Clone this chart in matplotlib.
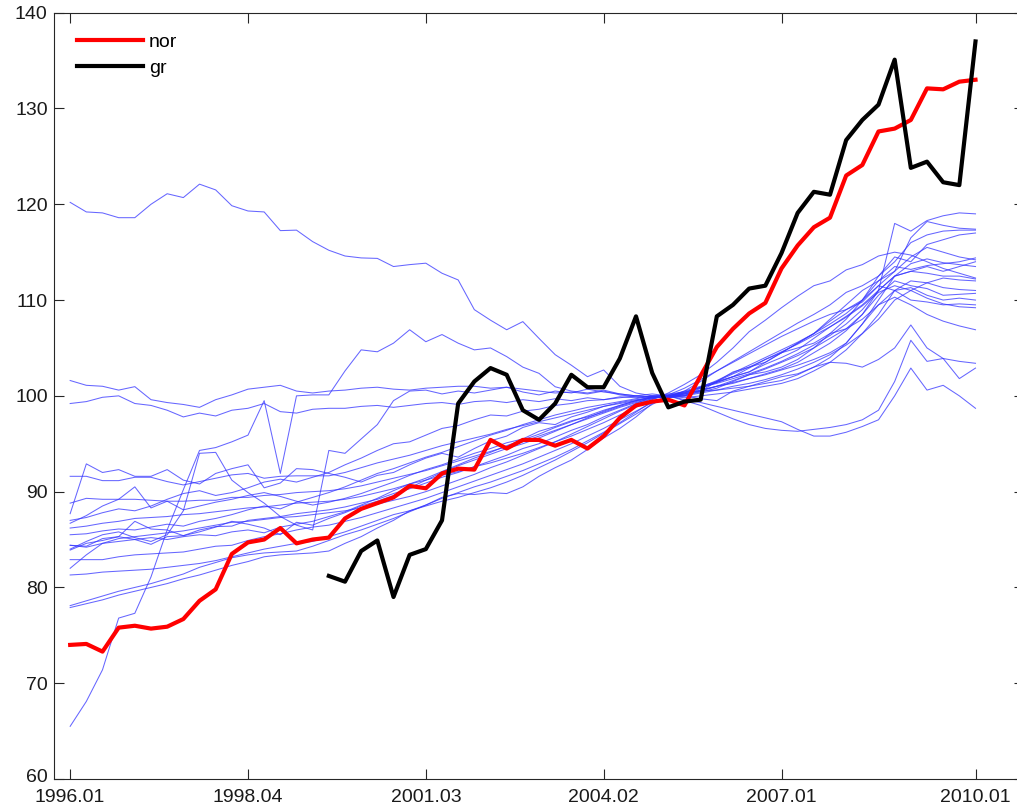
import numpy as np
import matplotlib
matplotlib.use("Agg")
import matplotlib.pyplot as plt
import matplotlib.transforms as mtransforms

plt.rcParams['font.family'] = ['Liberation Sans', 'DejaVu Sans']

# quarterly periods 1996Q1 .. 2010Q1
periods = [f"{y}.{q:02d}" for y in range(1996, 2011) for q in range(1, 5)][:57]
tick_labels = ['1996.01', '1998.04', '2001.03', '2004.02', '2007.01', '2010.01']

nor = [74.0, 74.1, 73.3, 75.8, 76.0, 75.7, 75.9, 76.7, 78.6, 79.8,
       83.5, 84.7, 85.0, 86.2, 84.6, 85.0, 85.2, 87.2, 88.2, 88.8,
       89.4, 90.6, 90.35, 91.9, 92.4, 92.3, 95.4, 94.5, 95.4, 95.4,
       94.8, 95.4, 94.5, 95.8, 97.7, 99.0, 99.4, 99.6, 99.0, 102.1,
       105.1, 107.0, 108.6, 109.7, 113.3, 115.7, 117.6, 118.6, 123.0, 124.1,
       127.6, 127.9, 128.8, 132.1, 132.0, 132.8, 133.0]

gr_start = "2000.01"
gr = [81.2, 80.6, 83.8, 84.9, 79.0, 83.4, 84.0, 87.0, 99.2, 101.5,
      102.9, 102.2, 98.5, 97.5, 99.2, 102.2, 100.9, 100.9, 103.9, 108.3,
      102.4, 98.8, 99.4, 99.6, 108.3, 109.5, 111.2, 111.5, 114.9, 119.1,
      121.3, 121.0, 126.7, 128.8, 130.4, 135.1, 123.8, 124.45, 122.3, 122.0,
      137.0]

# other countries: 1996Q1 .. 2005Q1 part
pre_A = [120.2, 119.2, 119.1, 118.6, 118.6, 120.0, 121.1, 120.7, 122.1, 121.5,
         119.85, 119.3, 119.2, 117.25, 117.3, 116.1, 115.2, 114.6, 114.4, 114.35,
         113.5, 113.7, 113.85, 112.8, 112.1, 109.0, 107.9, 106.9, 107.75, 106.0,
         104.3, 103.2, 102.0, 102.7, 101.0, 100.3, 100.0]
pre_B1 = [101.6, 101.1, 101.0, 100.6, 100.96, 99.6, 99.3, 99.1, 98.8, 99.6,
          100.1, 100.7, 100.9, 101.1, 100.5, 100.3, 100.5, 100.6, 100.8, 100.9,
          100.7, 100.6, 100.8, 100.9, 101.0, 101.0, 100.8, 100.9, 100.7, 100.5,
          100.3, 100.4, 100.2, 100.5, 100.1, 99.9, 99.8]
pre_B2 = [99.2, 99.4, 99.85, 100.0, 99.2, 99.0, 98.5, 97.8, 98.2, 97.9,
          98.5, 98.7, 99.2, 98.35, 98.2, 98.6, 98.7, 98.7, 98.9, 99.0,
          98.8, 99.0, 99.2, 99.3, 99.1, 99.4, 99.5, 99.3, 99.6, 99.4,
          99.7, 99.5, 99.8, 99.6, 99.9, 99.8, 100.0]
pre_S = [65.5, 68.1, 71.4, 76.8, 77.3, 81.1, 86.0, 90.2, 94.3, 94.6,
         95.2, 95.9, 99.5, 91.9, 100.0, 100.1, 100.1, 102.6, 104.8, 104.6,
         105.5, 106.9, 105.65, 106.4, 105.5, 104.8, 105.0, 104.1, 103.0, 102.35,
         100.95, 100.5, 100.3, 100.6, 100.2, 100.0, 99.9]
pre_C1 = [91.6, 91.6, 91.15, 91.15, 91.5, 91.5, 91.05, 90.7, 91.05, 91.4,
          91.75, 91.9, 91.4, 91.6, 91.65, 91.65, 91.65,
          92.0, 92.5, 93.0, 93.4, 93.8, 94.3, 94.8, 95.2, 95.6, 96.0,
          96.5, 96.9, 97.3, 97.7, 98.1, 98.5, 98.9, 99.3, 99.6, 99.8]
pre_C2 = [87.7, 92.9, 92.0, 92.3, 91.6, 91.6, 92.3, 91.2, 90.8, 91.9,
          92.4, 92.8, 90.4, 90.9, 92.4, 92.3, 91.9,
          91.5, 91.0, 91.7, 92.0, 92.8, 93.5, 94.0, 93.6, 94.5, 95.3,
          95.8, 96.7, 97.2, 97.0, 97.8, 98.3, 98.9, 99.2, 99.5, 99.8]
pre_D1 = [88.8, 89.3, 89.2, 89.2, 89.2, 89.1, 89.0, 89.0, 89.1, 89.1,
          89.4, 89.4, 89.6, 89.7, 89.9, 90.0, 90.1,
          90.3, 90.6, 91.0, 91.4, 91.8, 92.2, 92.7, 93.2, 93.7, 94.2,
          94.7, 95.2, 95.8, 96.4, 97.0, 97.6, 98.2, 98.8, 99.3, 99.7]
pre_D2 = [86.7, 87.5, 88.5, 89.2, 90.5, 88.3, 89.0, 88.1, 88.5, 88.9,
          89.2, 89.6, 89.9, 89.5, 89.0, 88.6, 88.9,
          89.3, 89.8, 90.4, 91.0, 91.7, 92.3, 92.8, 93.4, 94.0, 94.5,
          95.1, 95.5, 96.3, 96.8, 97.4, 97.8, 98.3, 98.9, 99.4, 99.8]
pre_D3 = [86.2, 86.4, 86.7, 86.9, 87.2, 87.3, 87.4, 87.6, 87.7, 87.9,
          88.1, 88.3, 88.4, 88.6, 88.8, 88.9, 89.0,
          89.2, 89.5, 89.9, 90.3, 90.8, 91.2, 91.7, 92.1, 92.6, 93.0,
          93.5, 94.0, 94.6, 95.2, 95.8, 96.5, 97.2, 98.0, 98.8, 99.6]
pre_E1 = [84.4, 84.3, 85.1, 85.3, 85.0, 84.5, 85.3, 85.4, 86.0, 86.35,
          86.4, 87.0, 87.2, 87.4, 87.7, 87.9, 88.1,
          88.4, 88.8, 89.2, 89.8, 90.3, 90.9, 91.5, 92.0, 92.6, 93.2,
          93.8, 94.5, 95.0, 95.7, 96.4, 97.0, 97.8, 98.5, 99.2, 99.9]
pre_E2 = [82.0, 83.4, 84.6, 85.1, 85.3, 85.5, 85.7, 85.9, 86.2, 86.5,
          86.8, 86.9, 87.1, 87.3, 87.4, 87.6, 87.8,
          88.0, 88.3, 88.7, 89.1, 89.5, 90.0, 90.6, 91.2, 91.8, 92.5,
          93.1, 93.8, 94.5, 95.2, 96.0, 96.8, 97.6, 98.4, 99.1, 99.7]
pre_E3 = [83.9, 84.6, 84.9, 85.3, 86.9, 86.1, 86.0, 85.4, 85.8, 86.3,
          86.9, 86.6, 86.2, 85.5, 86.8, 86.5, 87.2,
          87.8, 88.5, 89.0, 89.6, 90.4, 91.2, 92.0, 92.7, 93.3, 93.9,
          94.5, 95.0, 95.6, 96.3, 97.0, 97.7, 98.4, 99.0, 99.5, 99.9]
pre_F1 = [81.3, 81.4, 81.6, 81.7, 81.8, 81.9, 82.1, 82.3, 82.5, 82.8,
          83.2, 83.6, 84.0, 84.3, 84.6, 84.8, 85.3,
          85.8, 86.4, 87.0, 87.6, 88.0, 88.5, 89.0, 89.4, 89.9, 90.4,
          91.0, 91.7, 92.5, 93.3, 94.2, 95.1, 96.1, 97.1, 98.1, 99.1]
pre_F2 = [82.9, 82.9, 82.9, 83.2, 83.4, 83.5, 83.6, 83.7, 84.0, 84.3,
          84.4, 84.9, 85.3, 85.6, 86.0, 86.3, 86.5,
          86.9, 87.3, 87.8, 88.3, 88.8, 89.3, 89.9, 90.5, 91.1, 91.7,
          92.3, 92.9, 93.6, 94.3, 95.0, 95.8, 96.6, 97.5, 98.4, 99.3]
pre_G1 = [78.1, 78.6, 79.1, 79.6, 80.0, 80.4, 80.9, 81.4, 82.1, 82.6,
          83.1, 83.4, 83.6, 83.7, 83.8, 84.3, 84.9,
          85.5, 86.0, 86.6, 87.2, 87.9, 88.6, 89.3, 89.9, 90.5, 91.0,
          91.6, 92.2, 92.9, 93.6, 94.4, 95.3, 96.2, 97.2, 98.3, 99.4]
pre_G2 = [77.9, 78.3, 78.7, 79.2, 79.6, 80.0, 80.4, 80.9, 81.3, 81.8,
          82.3, 82.7, 83.2, 83.4, 83.5, 83.6, 83.8,
          84.6, 85.3, 86.2, 87.0, 88.0, 88.6, 89.4, 89.8, 89.7, 89.9,
          89.8, 90.5, 91.6, 92.5, 93.3, 94.4, 95.6, 96.6, 97.8, 99.2]
pre_J = [84.0, 84.8, 85.5, 85.8, 85.2, 84.8, 85.5, 88.0, 94.0, 94.1,
         91.2, 89.9, 88.8, 87.4, 86.5, 86.0, 94.3,
         94.0, 95.5, 97.0, 99.5, 100.5, 100.6, 100.2, 100.5, 100.3, 100.6,
         100.9, 100.4, 100.1, 100.5, 100.3, 100.7, 100.4, 100.2, 100.0, 99.9]
pre_K = [87.0, 87.3, 87.8, 88.2, 88.0, 88.5, 89.2, 89.8, 90.1, 89.6,
         89.9, 90.4, 91.0, 91.3, 91.0, 91.5, 92.0,
         92.8, 93.5, 94.3, 95.0, 95.2, 95.9, 96.6, 96.9, 97.5, 98.0,
         97.9, 98.4, 98.6, 99.0, 99.2, 99.5, 99.6, 99.8, 100.0, 100.2]
pre_M = [85.5, 85.6, 85.9, 86.1, 86.0, 86.3, 86.6, 86.4, 86.9, 87.2,
         87.6, 88.1, 88.5, 88.2, 88.9, 89.4, 89.9,
         90.5, 91.2, 91.9, 92.4, 93.0, 93.6, 94.1, 94.7, 95.3, 95.9,
         96.4, 97.0, 97.5, 98.0, 98.4, 98.8, 99.1, 99.4, 99.7, 100.0]
pre_N = [84.4, 84.2, 84.6, 84.8, 85.0, 85.2, 85.0, 85.3, 85.5, 85.4,
         85.8, 86.0, 85.7, 86.3, 86.6, 86.9, 87.4,
         87.9, 88.6, 89.3, 90.1, 90.8, 91.4, 92.1, 92.8, 93.5, 94.1,
         94.8, 95.4, 96.0, 96.7, 97.3, 97.9, 98.5, 99.0, 99.5, 99.9]

# 2005Q2 .. 2010Q1 part
post_1 = [99.8, 100.2, 100.5, 101.0, 101.3, 101.8, 102.3, 102.8, 103.5, 104.5,
          105.5, 106.8, 108.5, 111.0, 118.0, 117.2, 118.3, 118.8, 119.1, 119.0]
post_2 = [100.0, 100.0, 100.8, 101.5, 102.0, 102.5, 103.5, 104.5, 105.5, 106.5,
          107.8, 109.0, 110.0, 112.0, 113.0, 116.5, 118.2, 117.8, 117.5, 117.4]
post_3 = [99.9, 100.5, 101.5, 102.6, 103.6, 104.6, 105.6, 106.6, 107.6, 108.5,
          109.5, 110.8, 111.5, 112.5, 114.5, 114.0, 115.8, 116.3, 116.8, 117.0]
post_4 = [100.3, 101.2, 102.2, 103.5, 105.0, 106.7, 107.9, 109.2, 110.4, 111.5,
          112.0, 113.15, 113.7, 114.6, 115.0, 114.7, 114.0, 113.3, 112.8, 112.3]
post_5 = [99.8, 100.0, 100.5, 101.5, 102.5, 103.0, 103.5, 104.5, 105.5, 106.5,
          108.0, 109.5, 111.0, 112.0, 113.5, 113.2, 113.6, 113.8, 114.0, 114.4]
post_6 = [100.0, 100.3, 100.5, 100.6, 100.8, 101.0, 101.3, 101.6, 102.2, 103.0,
          104.0, 105.5, 107.5, 110.0, 112.5, 113.0, 113.5, 113.0, 113.5, 114.0]
post_7 = [100.2, 100.4, 100.8, 101.4, 102.0, 102.9, 103.8, 104.6, 105.4, 106.3,
          107.2, 108.3, 109.5, 111.0, 112.5, 113.0, 112.8, 112.5, 112.5, 112.2]
post_8 = [99.9, 100.1, 100.4, 100.8, 101.5, 102.2, 102.5, 103.0, 103.8, 105.0,
          106.5, 107.0, 108.5, 110.5, 112.0, 111.5, 111.2, 110.5, 110.6, 110.7]
post_9 = [100.0, 99.8, 100.0, 100.2, 100.4, 100.7, 101.0, 101.3, 101.8, 102.6,
          103.5, 104.8, 106.5, 108.5, 111.0, 111.3, 110.5, 110.0, 110.2, 110.0]
post_10 = [100.1, 100.3, 100.9, 101.4, 102.0, 102.5, 103.3, 104.0, 104.8, 106.0,
           107.2, 108.2, 109.4, 110.8, 111.5, 111.0, 110.2, 109.6, 109.3, 109.2]
post_11 = [99.9, 100.2, 100.6, 101.0, 101.4, 101.8, 102.2, 102.7, 103.2, 103.8,
           104.5, 105.5, 107.5, 109.5, 110.3, 109.5, 108.5, 107.8, 107.3, 106.9]
post_12 = [100.0, 100.0, 99.7, 99.5, 100.5, 101.0, 101.5, 102.0, 102.3, 103.0,
           103.5, 103.4, 103.0, 103.8, 105.0, 107.4, 105.0, 103.9, 103.6, 103.4]
post_13 = [100.0, 99.5, 99.0, 98.3, 97.6, 97.0, 96.6, 96.4, 96.3, 96.5,
           96.7, 97.0, 97.5, 98.5, 101.5, 105.8, 103.6, 103.9, 101.8, 102.9]
post_14 = [100.0, 99.6, 99.3, 98.9, 98.5, 98.1, 97.7, 97.3, 96.5, 95.8,
           95.8, 96.2, 96.8, 97.5, 100.0, 102.9, 100.6, 101.1, 100.0, 98.7]
post_15 = [100.0, 100.4, 100.9, 101.3, 101.8, 102.3, 102.9, 103.6, 104.4, 105.3,
           106.3, 107.5, 109.0, 111.0, 112.5, 113.8, 114.3, 113.9, 113.7, 113.5]
post_16 = [99.8, 100.0, 100.3, 100.6, 101.0, 101.3, 101.7, 102.2, 102.8, 103.5,
           104.3, 105.3, 106.5, 108.0, 110.0, 111.0, 111.8, 112.3, 112.1, 112.0]
post_17 = [100.1, 100.8, 101.7, 102.6, 103.5, 104.4, 105.3, 106.2, 107.0, 107.8,
           108.5, 109.0, 109.8, 111.5, 111.0, 110.0, 109.8, 109.5, 109.6, 109.5]
post_18 = [100.0, 100.5, 101.0, 101.5, 102.3, 103.0, 103.8, 104.5, 105.0, 105.5,
           106.5, 108.0, 110.0, 112.5, 114.0, 116.0, 116.8, 117.2, 117.3, 117.3]
post_19 = [100.0, 100.2, 100.6, 101.0, 101.6, 102.2, 102.8, 103.5, 104.2, 105.0,
           106.0, 107.0, 108.0, 109.5, 111.0, 112.0, 111.8, 111.3, 111.1, 111.0]
post_20 = [99.9, 100.3, 100.9, 101.6, 102.4, 103.2, 104.0, 104.8, 105.6, 106.5,
           107.5, 108.6, 110.0, 111.5, 113.0, 114.5, 115.5, 115.0, 114.5, 114.2]

others = [
    pre_A + post_14, pre_B1 + post_12, pre_B2 + post_13, pre_S + post_1,
    pre_C1 + post_7, pre_C2 + post_11, pre_D1 + post_10, pre_D2 + post_8,
    pre_D3 + post_4, pre_E1 + post_5, pre_E2 + post_6, pre_E3 + post_9,
    pre_F1 + post_2, pre_F2 + post_15, pre_G1 + post_3, pre_G2 + post_16,
    pre_J + post_17, pre_K + post_18, pre_M + post_19, pre_N + post_20,
]
for k, s in enumerate(others):
    assert len(s) == len(periods), (k, len(s))

x = np.arange(len(periods))
gr_x = np.arange(periods.index(gr_start), periods.index(gr_start) + len(gr))

W, H = 1017, 810
fig = plt.figure(figsize=(W / 100, H / 100), dpi=100)
ax = fig.add_axes([54 / W, (H - 779) / H, 970 / W, 766.3 / H])

for s in others:
    ax.plot(x, s, color=(0.2, 0.2, 1.0), lw=0.75, alpha=0.75, zorder=2)

ax.plot(x, nor, color='#ff0000', lw=3.0, label='nor', zorder=3,
        solid_joinstyle='round')
ax.plot(gr_x, gr, color='#000000', lw=3.0, label='gr', zorder=4,
        solid_joinstyle='round')

ax.set_xlim(-1, 59)
ax.set_ylim(60, 140)
ax.set_yticks(np.arange(60, 141, 10))
ax.set_xticks([periods.index(t) for t in tick_labels])
ax.set_xticklabels(tick_labels)

for sp in ax.spines.values():
    sp.set_color('#262626')
    sp.set_linewidth(0.8)
ax.tick_params(axis='both', direction='in', length=7.5, width=0.8,
               color='#262626', labelsize=14, labelcolor='#1a1a1a',
               top=True, right=True)
ax.tick_params(axis='y', pad=4.5)
ax.tick_params(axis='x', pad=7)

# nudge the bottom y label ("60") slightly up so it clears the x labels
fig.canvas.draw()
ylabels = ax.get_yticklabels()
ylabels[0].set_transform(ylabels[0].get_transform() +
                         mtransforms.ScaledTranslation(0, 3 / 100, fig.dpi_scale_trans))

leg = ax.legend(loc='upper left', bbox_to_anchor=(0.0237, 0.9735),
                frameon=False, fontsize=14, handlelength=3.4,
                handletextpad=0.3, labelspacing=0.46,
                borderaxespad=0, borderpad=0)

fig.savefig('out.png', dpi=100)
